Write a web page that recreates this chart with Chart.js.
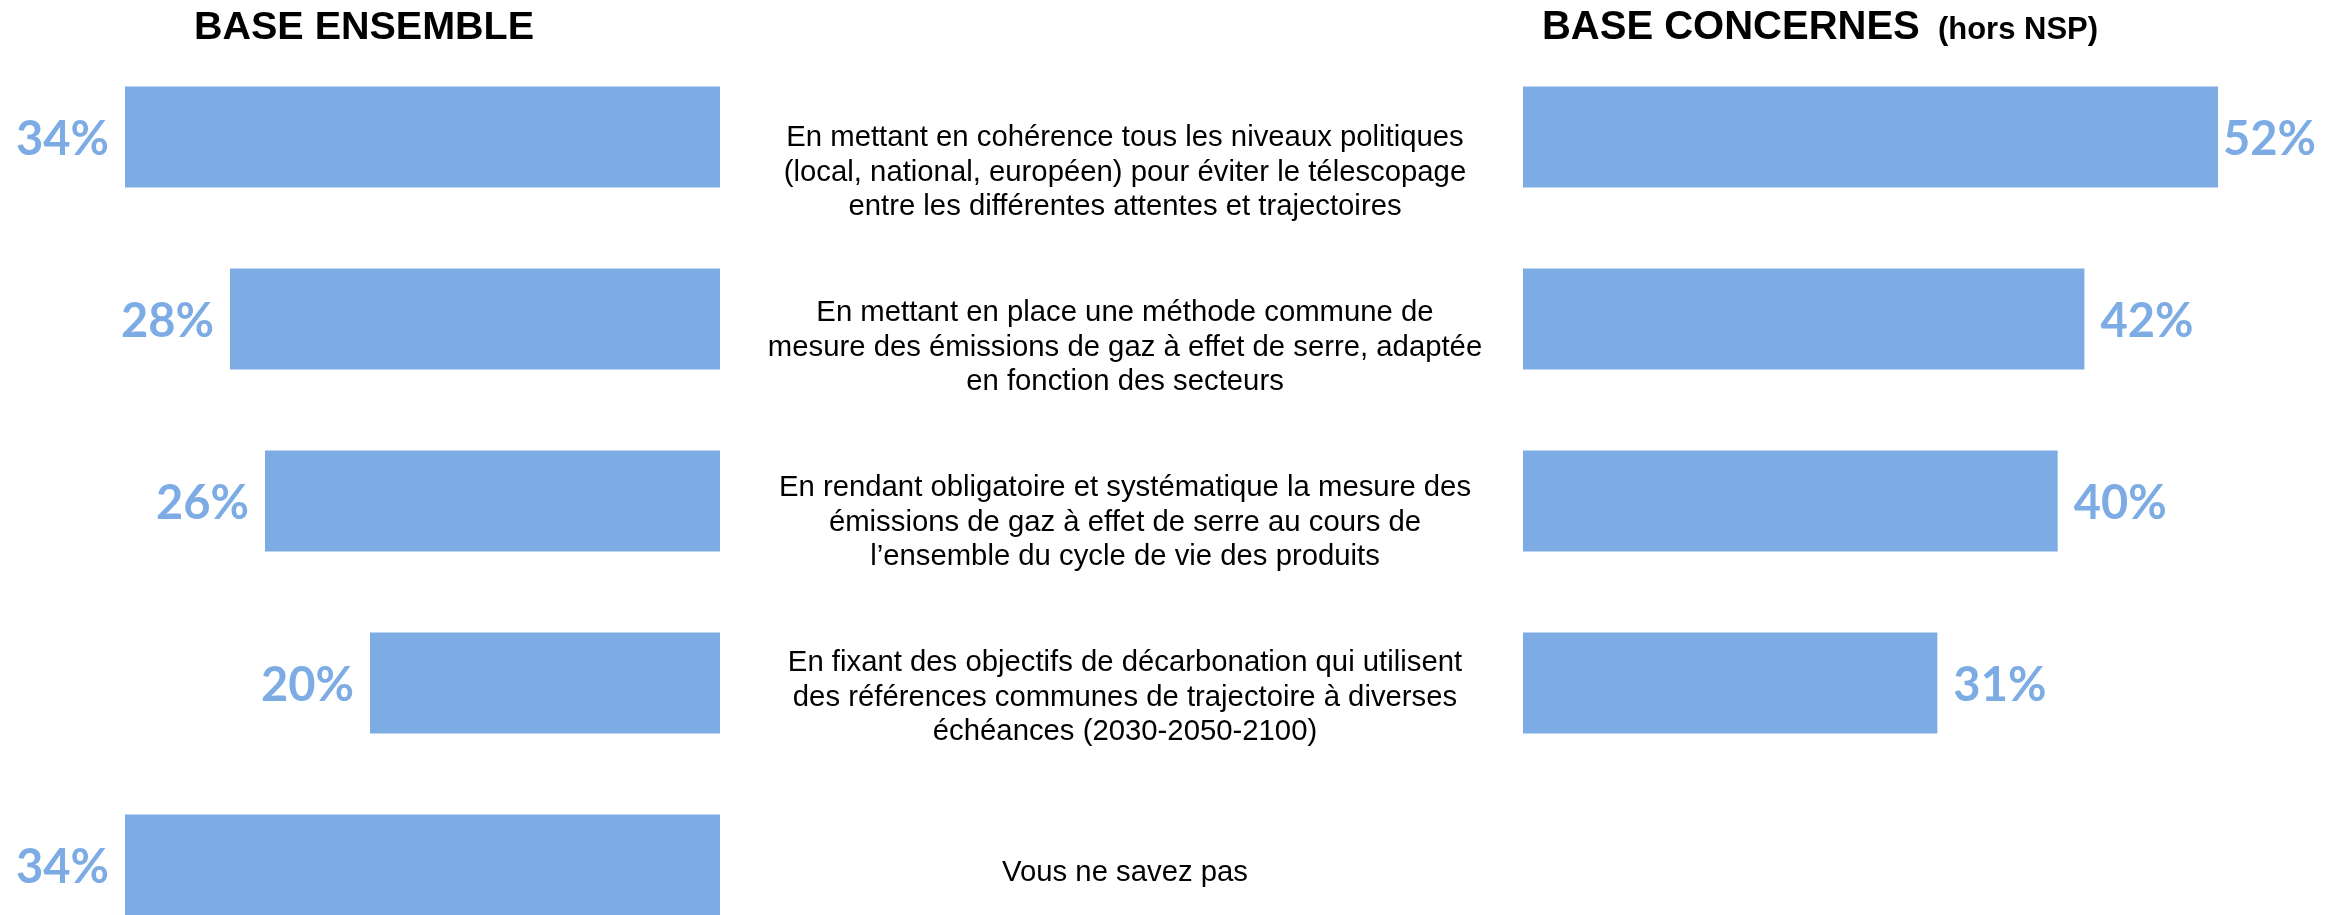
<!DOCTYPE html>
<html lang="fr">
<head>
<meta charset="UTF-8">
<title>Base ensemble / Base concernés</title>
<script src="https://cdn.jsdelivr.net/npm/chart.js@4.4.1/dist/chart.umd.min.js"></script>
<style>
	body { margin:0; background-color:#FFFFFF; overflow:hidden; }
	#wrap { position:relative; width:2343px; height:915px; overflow:hidden; }
	canvas { position:absolute; top:0px; }
	#left_chart { left:0px; }
	#mid_chart { left:749px; }
	#right_chart { left:1470px; }
</style>
</head>
<body>
<div id="wrap">
	<canvas id="left_chart" width="728" height="960"></canvas>
	<canvas id="mid_chart" width="768" height="960"></canvas>
	<canvas id="right_chart" width="873" height="960"></canvas>
</div>

<script>
	// data
	const categories = [
		['En mettant en cohérence tous les niveaux politiques', '(local, national, européen) pour éviter le télescopage', 'entre les différentes attentes et trajectoires'],
		['En mettant en place une méthode commune de', 'mesure des émissions de gaz à effet de serre, adaptée', 'en fonction des secteurs'],
		['En rendant obligatoire et systématique la mesure des', 'émissions de gaz à effet de serre au cours de', 'l’ensemble du cycle de vie des produits'],
		['En fixant des objectifs de décarbonation qui utilisent', 'des références communes de trajectoire à diverses', 'échéances (2030-2050-2100)'],
		'Vous ne savez pas'
	];
	const baseEnsemble = [34, 28, 26, 20, 34];
	const baseConcernes = [52, 42, 40, 31, null];
	const leftTitle = 'BASE ENSEMBLE';
	const rightTitle = 'BASE CONCERNES';
	const rightTitleNote = '(hors NSP)';

	const FONT = "'Liberation Sans', Arial, sans-serif";
	const LABEL_FONT = "Lato, 'Noto Sans', sans-serif";
	const BAR_COLOR = '#7DACE4';
	const MID_W = 768;

	Chart.defaults.font.family = FONT;
	Chart.defaults.animation = false;

	// title drawn in runs so the note can be smaller
	function makeTitle(parts, x, y)
	{
		return {
			id: 'splitTitle',
			afterDraw(chart)
			{
				const ctx = chart.ctx;
				ctx.save();
				ctx.fillStyle = '#000000';
				ctx.textBaseline = 'alphabetic';
				ctx.textAlign = 'left';
				let total = 0;
				const widths = parts.map(p => {
					ctx.font = 'bold ' + p.size + 'px ' + FONT;
					const w = ctx.measureText(p.text).width + (p.gap || 0);
					total += w;
					return w;
				});
				let cx = x - total / 2;
				parts.forEach((p, i) => {
					ctx.font = 'bold ' + p.size + 'px ' + FONT;
					ctx.fillText(p.text, cx, y);
					cx += widths[i];
				});
				ctx.restore();
			}
		};
	}

	// value labels at the end of each bar
	function makeValueLabels(side, gap, edge)
	{
		return {
			id: 'valueLabels',
			afterDatasetsDraw(chart)
			{
				const ctx = chart.ctx;
				const meta = chart.getDatasetMeta(0);
				const values = chart.data.datasets[0].data;
				ctx.save();
				ctx.font = 'bold 47px ' + LABEL_FONT;
				ctx.fillStyle = BAR_COLOR;
				ctx.textBaseline = 'middle';
				meta.data.forEach((bar, i) => {
					if (values[i] == null) return;
					const txt = values[i] + '%';
					const w = ctx.measureText(txt).width;
					if (side == 'left')
					{
						ctx.textAlign = 'right';
						ctx.fillText(txt, bar.x - gap, bar.y + 3);
					}
					else
					{
						let x = bar.x + gap;
						if (x + w > chart.width - edge) x = chart.width - edge - w;
						ctx.textAlign = 'left';
						ctx.fillText(txt, x, bar.y + 3);
					}
				});
				ctx.restore();
			}
		};
	}

	let leftChart = new Chart(document.getElementById('left_chart'), {
		type: 'bar',
		data: {
			labels: categories,
			datasets: [{
				data: baseEnsemble,
				backgroundColor: BAR_COLOR,
				barPercentage: 0.555,
				categoryPercentage: 1.0
			}]
		},
		options: {
			indexAxis: 'y',
			responsive: false,
			layout: { padding: { left: 20, right: 8, top: 46, bottom: 4 } },
			scales: {
				x: { type: 'linear', min: 0, max: 40, reverse: true, display: false },
				y: { display: false }
			},
			plugins: { legend: { display: false }, tooltip: { enabled: false } }
		},
		plugins: [
			makeTitle([{ text: leftTitle, size: 39.5 }], 364, 39),
			makeValueLabels('left', 16, 0)
		]
	});

	let midChart = new Chart(document.getElementById('mid_chart'), {
		type: 'bar',
		data: {
			labels: categories,
			datasets: [{ data: [] }]
		},
		options: {
			indexAxis: 'y',
			responsive: false,
			layout: { padding: { left: 0, right: 0, top: 85, bottom: 0 } },
			scales: {
				x: { display: false, min: 0, max: 1 },
				y: {
					position: 'left',
					grid: { display: false },
					border: { display: false },
					ticks: {
						autoSkip: false,
						padding: 0,
						crossAlign: 'center',
						color: '#000000',
						font: { size: 29.3, lineHeight: 1.18 }
					},
					afterFit(scale)
					{
						const ls = scale._getLabelSizes ? scale._getLabelSizes() : null;
						const w = ls ? ls.widest.width : 680;
						scale.width = MID_W / 2 + w / 2;
						scale.paddingTop = 0;
						scale.paddingBottom = 0;
					}
				}
			},
			plugins: { legend: { display: false }, tooltip: { enabled: false } }
		}
	});

	let rightChart = new Chart(document.getElementById('right_chart'), {
		type: 'bar',
		data: {
			labels: categories,
			datasets: [{
				data: baseConcernes,
				backgroundColor: BAR_COLOR,
				barPercentage: 0.555,
				categoryPercentage: 1.0
			}]
		},
		options: {
			indexAxis: 'y',
			responsive: false,
			layout: { padding: { left: 53, right: 18, top: 46, bottom: 4 } },
			scales: {
				x: { type: 'linear', min: 0, max: 60, display: false },
				y: { display: false }
			},
			plugins: { legend: { display: false }, tooltip: { enabled: false } }
		},
		plugins: [
			makeTitle([{ text: rightTitle + ' ', size: 40, gap: 7 }, { text: rightTitleNote, size: 31 }], 350, 39),
			makeValueLabels('right', 16, 27)
		]
	});
</script>
</body>
</html>
